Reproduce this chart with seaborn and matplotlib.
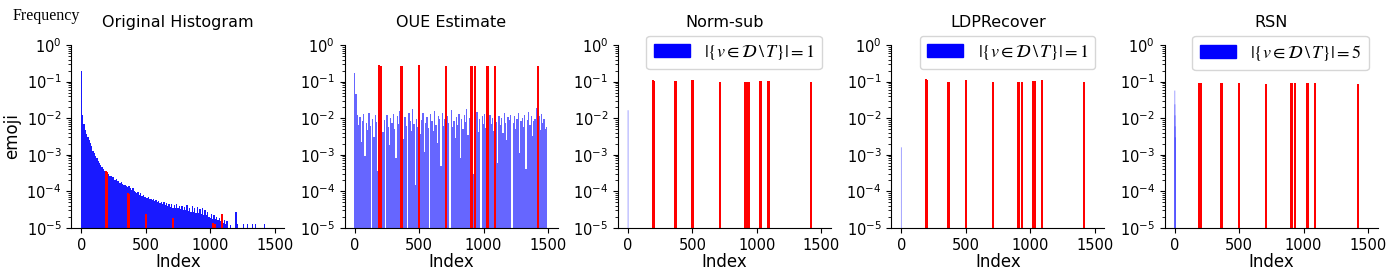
import seaborn as sns
import matplotlib.pyplot as plt
from matplotlib.patches import Patch
from matplotlib.font_manager import FontProperties

# dense histograms: one bar per bucket of 10 items
bucket_index = list(range(0, 1500, 10))

original_freq = [
    0.195, 0.012, 0.0068, 0.0049, 0.0037, 0.0030, 0.0025, 0.0021, 0.0017, 0.0013,
    0.0011, 0.00092, 0.00080, 0.00068, 0.00058, 0.00051, 0.00045, 0.00040, 0.00037, 0.00034,
    0.00031, 0.00030, 0.00027, 0.00027, 0.00024, 0.00025, 0.00021, 0.00022, 0.00019, 0.00019,
    0.00017, 0.00018, 0.00016, 0.00015, 0.00015, 0.00014, 0.00013, 0.00014, 0.00012, 0.00011,
    0.00012, 0.00010, 0.000098, 0.000090, 0.000095, 0.000082, 0.000088, 0.000075, 0.000079, 0.000069,
    0.000072, 0.000064, 0.000070, 0.000060, 0.000063, 0.000057, 0.000062, 0.000053, 0.000058, 0.000050,
    0.000055, 0.000047, 0.000052, 0.000044, 0.000050, 0.000042, 0.000047, 0.000040, 0.000046, 0.000038,
    0.000044, 0.000036, 0.000042, 0.000035, 0.000045, 0.000034, 0.000040, 0.000033, 0.000041, 0.000031,
    0.000038, 0.000030, 0.000043, 0.000029, 0.000036, 0.000028, 0.000039, 0.000027, 0.000034, 0.000026,
    0.000037, 0.000025, 0.000033, 0.000024, 0.000035, 0.000023, 0.000030, 0.000022, 0.000028, 0.000020,
    0.000019, 0.000024, 0.000018, 0.000022, 0.000017, 0.000020, 0.000016, 0.000019, 0.000015, 0.000017,
    0.000014, 0.000016, 0.000013, 0.000015, 0.0, 0.0, 0.000012, 0.0, 0.0, 0.0,
    0.000028, 0.000013, 0.0, 0.0, 0.0, 0.0, 0.000013, 0.0, 0.0, 0.000013,
    0.0, 0.0, 0.0, 0.000013, 0.0, 0.000013, 0.0, 0.0, 0.0, 0.0,
    0.0, 0.0, 0.000013, 0.0, 0.0, 0.0, 0.0, 0.0, 0.0, 0.0,
]

oue_freq = [
    0.17, 0.045, 0.012, 0.0065, 0.011, 0.0022, 0.0085, 0.013, 0.0009, 0.0072,
    0.0048, 0.014, 0.0061, 0.0, 0.0095, 0.0031, 0.012, 0.0078, 0.00035, 0.011,
    0.0068, 0.015, 0.0042, 0.0089, 0.0, 0.0125, 0.0057, 0.0019, 0.0102, 0.0074,
    0.013, 0.0052, 0.0008, 0.0115, 0.0069, 0.016, 0.0038, 0.0091, 0.0027, 0.0108,
    0.0063, 0.0, 0.0135, 0.0082, 0.0046, 0.0175, 0.0071, 0.00015, 0.0098, 0.0059,
    0.0122, 0.0036, 0.0088, 0.014, 0.0012, 0.0076, 0.0105, 0.0055, 0.0, 0.0128,
    0.0084, 0.0044, 0.0155, 0.0067, 0.0021, 0.0112, 0.0093, 0.0005, 0.0138, 0.0061,
    0.0097, 0.0049, 0.0118, 0.0073, 0.0, 0.0164, 0.0058, 0.0086, 0.0029, 0.0107,
    0.0066, 0.0131, 0.0008, 0.0094, 0.0052, 0.0119, 0.0077, 0.018, 0.0035, 0.0101,
    0.0128, 0.0062, 0.0003, 0.0109, 0.0083, 0.0147, 0.0041, 0.0096, 0.0, 0.0115,
    0.0071, 0.0134, 0.0054, 0.0089, 0.0017, 0.0121, 0.0068, 0.0102, 0.0045, 0.0152,
    0.0079, 0.0006, 0.0113, 0.0064, 0.0099, 0.0039, 0.0142, 0.0072, 0.0025, 0.0106,
    0.0087, 0.0126, 0.0, 0.0075, 0.0117, 0.0051, 0.0093, 0.0139, 0.0011, 0.0082,
    0.0104, 0.0058, 0.0123, 0.0004, 0.0091, 0.0148, 0.0067, 0.0112, 0.0033, 0.0085,
    0.0095, 0.0185, 0.0061, 0.0114, 0.0048, 0.0129, 0.0076, 0.0098, 0.0052, 0.0056,
]

# target (promoted) items
target_index = [190, 200, 362, 370, 500, 710, 905, 912, 935, 1025, 1035, 1090, 1420]
target_original = [0.00036, 0.00034, 0.00009, 0.000085, 0.000024, 0.000019, 0.0, 0.0, 0.0,
                   0.000014, 0.000013, 0.000024, 0.0]
target_oue = [0.28, 0.27, 0.26, 0.26, 0.28, 0.26, 0.26, 0.26, 0.26, 0.27, 0.27, 0.27, 0.26]
target_normsub = [0.114, 0.107, 0.101, 0.101, 0.112, 0.099, 0.095, 0.095, 0.099, 0.105, 0.105, 0.107, 0.099]
target_ldprecover = [0.119, 0.110, 0.100, 0.100, 0.114, 0.099, 0.095, 0.095, 0.100, 0.105, 0.105, 0.112, 0.099]
target_rsn = [0.093, 0.091, 0.090, 0.090, 0.093, 0.087, 0.089, 0.089, 0.091, 0.090, 0.090, 0.093, 0.087]

# non-target items left after recovery
normsub_index = [0]
normsub_freq = [0.0165]
ldprecover_index = [0]
ldprecover_freq = [0.0016]
rsn_index = [0, 1, 2, 3, 4]
rsn_freq = [0.057, 0.024, 0.012, 0.006, 0.003]

titles = ["Original Histogram", "OUE Estimate", "Norm-sub", "LDPRecover", "RSN"]
legend_counts = [None, None, 1, 1, 5]

sns.set_style("ticks", {"axes.edgecolor": "black", "text.color": "black",
                        "xtick.color": "black", "ytick.color": "black",
                        "axes.labelcolor": "black"})
plt.rcParams["font.family"] = ["DejaVu Sans"]

fig, axes = plt.subplots(1, 5, figsize=(14, 2.8), dpi=100)
fig.subplots_adjust(left=0.051, right=0.984, bottom=0.186, top=0.839, wspace=0.284)

# blue = non-target items, red = target items
red_kw = dict(width=16, color="red", linewidth=0)
light_kw = dict(width=8, color="blue", alpha=0.35, linewidth=0, snap=False)

axes[0].bar(bucket_index, original_freq, width=10, color="blue", alpha=0.9, linewidth=0)
axes[0].bar(target_index, target_original, **red_kw)

axes[1].bar(bucket_index, oue_freq, width=10, color="blue", alpha=0.6, linewidth=0)
axes[1].bar(target_index, target_oue, **red_kw)

axes[2].bar(normsub_index, normsub_freq, **light_kw)
axes[2].bar(target_index, target_normsub, **red_kw)

axes[3].bar(ldprecover_index, ldprecover_freq, **light_kw)
axes[3].bar(target_index, target_ldprecover, **red_kw)

axes[4].bar(rsn_index, rsn_freq, **light_kw)
axes[4].bar(target_index, target_rsn, **red_kw)

legend_font = FontProperties(size=13, math_fontfamily="stix")

for ax, title, count in zip(axes, titles, legend_counts):
    ax.set_yscale("log")
    ax.set_ylim(1e-5, 1)
    ax.set_xlim(-78, 1575)
    ax.set_xticks([0, 500, 1000, 1500])
    ax.set_xticklabels(["0", "500", "1000", "1500"])
    ax.tick_params(labelsize=10.5)
    ax.set_title(title, fontsize=11.5, pad=13)
    ax.set_xlabel("Index", fontsize=12, labelpad=0)
    if count is not None:
        label = r"$|\{v \in \mathcal{D}\,\backslash\,T\}| = %d$" % count
        ax.legend(handles=[Patch(color="blue", label=label)], loc="upper right",
                  bbox_to_anchor=(1.0, 1.1), prop=legend_font)
    sns.despine(ax=ax)

axes[0].set_ylabel("emoji", fontsize=12)
fig.text(0.009, 0.943, "Frequency", family="Liberation Serif", fontsize=11.5, va="center")

plt.savefig("out.png")
